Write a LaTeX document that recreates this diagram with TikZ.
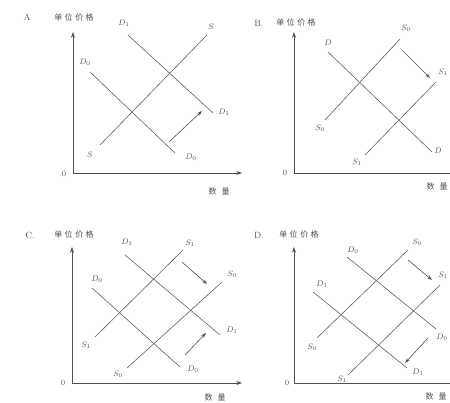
\documentclass[tikz,border=0pt]{standalone}
\usepackage{fontspec}
\newfontfamily\cjk{Noto Sans CJK SC}
\usetikzlibrary{arrows.meta}
\definecolor{scanink}{RGB}{80,80,80}
\tikzset{
  axis/.style={{Stealth[length=2mm,width=1.4mm]}-{Stealth[length=2mm,width=1.4mm]},
    thick,draw=scanink},
  curve/.style={semithick,draw=scanink!90},
  shiftarrow/.style={-{Stealth[length=1.8mm,width=1.2mm]},semithick,draw=scanink},
  lab/.style={font=\footnotesize,text=scanink,inner sep=1pt},
  ttl/.style={font=\small,text=scanink,inner sep=1pt},
  axlab/.style={font=\cjk\fontsize{8}{8}\selectfont,text=scanink,inner sep=1pt}
}
\newcommand{\pricelab}{单\hspace{2.5pt}位\hspace{2.5pt}价\hspace{2.5pt}格}
\newcommand{\qtylab}{数\hspace{5pt}量}

\begin{document}
\begin{tikzpicture}[x=1pt,y=-1pt]
  \useasboundingbox (0,0) rectangle (450,403);

  % A: demand rises
  \coordinate (aO) at (73,173);
  \coordinate (aY) at (73,32);
  \coordinate (aX) at (242,173);
  \draw[axis] (aY) -- (aO) -- (aX);
  \node[lab] (aZero) at (64,174) {0};
  \node[ttl] (aTtl) at (27,17) {A};
  \node[axlab] (aPrice) at (74,17) {\pricelab};
  \node[axlab] (aQty) at (219,191) {\qtylab};
  \coordinate (aSlo) at (100,145);
  \coordinate (aShi) at (207,35);
  \coordinate (aDoneA) at (128,35);
  \coordinate (aDoneB) at (213,113);
  \coordinate (aDzeroA) at (90,72);
  \coordinate (aDzeroB) at (175,153);
  \draw[curve] (aSlo) -- (aShi);
  \draw[curve] (aDoneA) -- (aDoneB);
  \draw[curve] (aDzeroA) -- (aDzeroB);
  \node[lab] (aSlab) at (90,155) {$S$};
  \node[lab] (aShlab) at (211,27) {$S$};
  \node[lab] (aDoneTop) at (124,23) {$D_1$};
  \node[lab] (aDoneEnd) at (224,112) {$D_1$};
  \node[lab] (aDzeroTop) at (85,62) {$D_0$};
  \node[lab] (aDzeroEnd) at (191,157) {$D_0$};
  \coordinate (aMfrom) at (169,142);
  \coordinate (aMto) at (202,111);
  \draw[shiftarrow] (aMfrom) -- (aMto);

  % B: supply rises
  \coordinate (bO) at (294,173);
  \coordinate (bY) at (294,32);
  \coordinate (bX) at (462,173);
  \draw[axis] (bY) -- (bO) -- (bX);
  \node[lab] (bZero) at (285,173) {0};
  \node[ttl] (bTtl) at (259,23) {B.};
  \node[axlab] (bPrice) at (296,22) {\pricelab};
  \node[axlab] (bQty) at (437,186) {\qtylab};
  \coordinate (bDA) at (328,52);
  \coordinate (bDB) at (432,152);
  \coordinate (bSzeroA) at (325,120);
  \coordinate (bSzeroB) at (400,39);
  \coordinate (bSoneA) at (365,155);
  \coordinate (bSoneB) at (436,82);
  \draw[curve] (bDA) -- (bDB);
  \draw[curve] (bSzeroA) -- (bSzeroB);
  \draw[curve] (bSoneA) -- (bSoneB);
  \node[lab] (bDtop) at (328,43) {$D$};
  \node[lab] (bDend) at (438,151) {$D$};
  \node[lab] (bSzeroTop) at (406,28) {$S_0$};
  \node[lab] (bSzeroEnd) at (320,128) {$S_0$};
  \node[lab] (bSoneEnd) at (357,162) {$S_1$};
  \node[lab] (bSoneTop) at (443,72) {$S_1$};
  \coordinate (bMfrom) at (402,50);
  \coordinate (bMto) at (430,78);
  \draw[shiftarrow] (bMfrom) -- (bMto);

  % C: demand and supply
  \coordinate (cO) at (72,383);
  \coordinate (cY) at (72,247);
  \coordinate (cX) at (242,383);
  \draw[axis] (cY) -- (cO) -- (cX);
  \node[lab] (cZero) at (63,383) {0};
  \node[ttl] (cTtl) at (30,235) {C.};
  \node[axlab] (cPrice) at (74,234) {\pricelab};
  \node[axlab] (cQty) at (215,397) {\qtylab};
  \coordinate (cDoneA) at (125,255);
  \coordinate (cDoneB) at (220,335);
  \coordinate (cDzeroA) at (92,288);
  \coordinate (cDzeroB) at (180,367);
  \coordinate (cSoneA) at (95,337);
  \coordinate (cSoneB) at (183,250);
  \coordinate (cSzeroA) at (127,368);
  \coordinate (cSzeroB) at (222,282);
  \draw[curve] (cDoneA) -- (cDoneB);
  \draw[curve] (cDzeroA) -- (cDzeroB);
  \draw[curve] (cSoneA) -- (cSoneB);
  \draw[curve] (cSzeroA) -- (cSzeroB);
  \node[lab] (cDoneTop) at (127,242) {$D_1$};
  \node[lab] (cDoneEnd) at (232,330) {$D_1$};
  \node[lab] (cDzeroTop) at (97,279) {$D_0$};
  \node[lab] (cDzeroEnd) at (193,369) {$D_0$};
  \node[lab] (cSoneTop) at (190,243) {$S_1$};
  \node[lab] (cSoneEnd) at (86,345) {$S_1$};
  \node[lab] (cSzeroEnd) at (118,374) {$S_0$};
  \node[lab] (cSzeroTop) at (232,274) {$S_0$};
  \coordinate (cUfrom) at (182,262);
  \coordinate (cUto) at (207,284);
  \coordinate (cLfrom) at (185,355);
  \coordinate (cLto) at (206,333);
  \draw[shiftarrow] (cUfrom) -- (cUto);
  \draw[shiftarrow] (cLfrom) -- (cLto);

  % D: demand and supply
  \coordinate (dO) at (294,383);
  \coordinate (dY) at (294,247);
  \coordinate (dX) at (462,383);
  \draw[axis] (dY) -- (dO) -- (dX);
  \node[lab] (dZero) at (287,383) {0};
  \node[ttl] (dTtl) at (259,235) {D.};
  \node[axlab] (dPrice) at (299,234) {\pricelab};
  \node[axlab] (dQty) at (436,396) {\qtylab};
  \coordinate (dDzeroA) at (347,257);
  \coordinate (dDzeroB) at (436,329);
  \coordinate (dDoneA) at (313,292);
  \coordinate (dDoneB) at (407,368);
  \coordinate (dSzeroA) at (317,338);
  \coordinate (dSzeroB) at (408,250);
  \coordinate (dSoneA) at (348,375);
  \coordinate (dSoneB) at (440,285);
  \draw[curve] (dDzeroA) -- (dDzeroB);
  \draw[curve] (dDoneA) -- (dDoneB);
  \draw[curve] (dSzeroA) -- (dSzeroB);
  \draw[curve] (dSoneA) -- (dSoneB);
  \node[lab] (dDzeroTop) at (353,250) {$D_0$};
  \node[lab] (dDzeroEnd) at (442,337) {$D_0$};
  \node[lab] (dDoneTop) at (322,284) {$D_1$};
  \node[lab] (dDoneEnd) at (418,372) {$D_1$};
  \node[lab] (dSzeroTop) at (417,242) {$S_0$};
  \node[lab] (dSzeroEnd) at (312,347) {$S_0$};
  \node[lab] (dSoneEnd) at (342,379) {$S_1$};
  \node[lab] (dSoneTop) at (443,275) {$S_1$};
  \coordinate (dUfrom) at (408,260);
  \coordinate (dUto) at (432,280);
  \coordinate (dLfrom) at (428,338);
  \coordinate (dLto) at (405,363);
  \draw[shiftarrow] (dUfrom) -- (dUto);
  \draw[shiftarrow] (dLfrom) -- (dLto);
\end{tikzpicture}
\end{document}
